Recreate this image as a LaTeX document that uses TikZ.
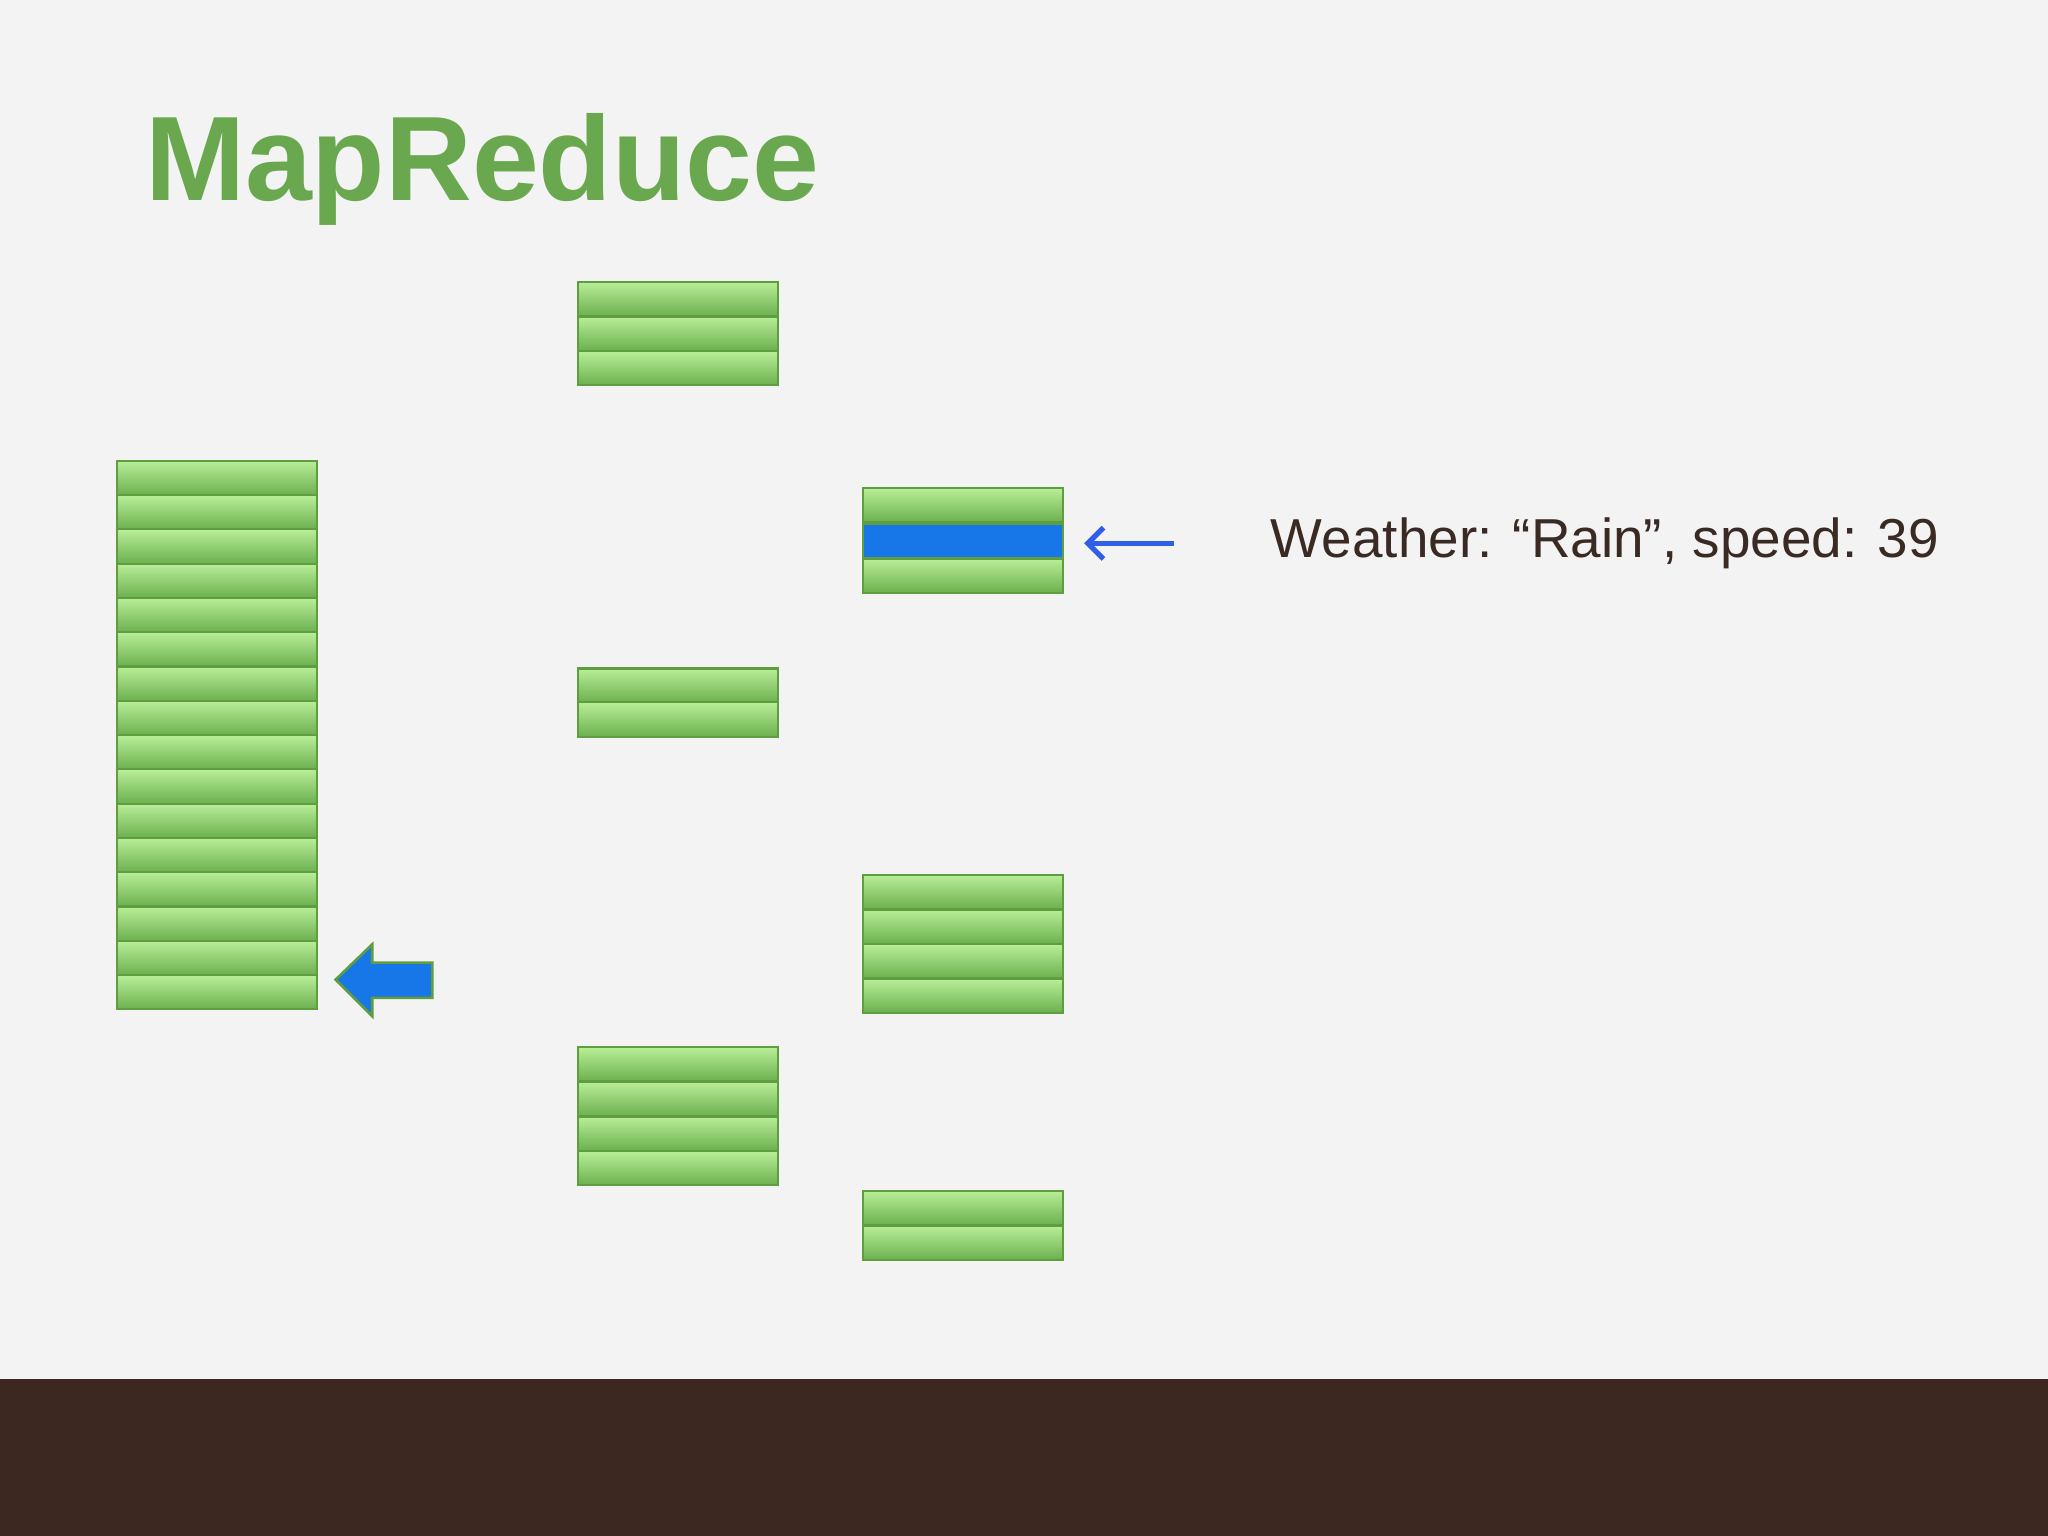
\documentclass[tikz,border=0pt]{standalone}
\usepackage{fontspec}
\usetikzlibrary{arrows.meta}
\setmainfont{Liberation Sans}
\definecolor{bg}{HTML}{F3F3F3}
\definecolor{titlegreen}{HTML}{6AA84F}
\definecolor{rowtop}{HTML}{B8EE98}
\definecolor{rowbot}{HTML}{6CB04E}
\definecolor{rowedge}{HTML}{5E9E3E}
\definecolor{bluefill}{HTML}{1877E8}
\definecolor{thinblue}{HTML}{2F5FE8}
\definecolor{brownbar}{HTML}{3C2721}
\definecolor{txt}{HTML}{3A2A24}
\begin{document}
\begin{tikzpicture}[x=0.5pt,y=-0.5pt,
  rowbox/.style={draw=rowedge,line width=0.8pt,top color=rowtop,bottom color=rowbot,inner sep=0,minimum width=76.5pt,minimum height=13.1pt,anchor=north west},
  bluerow/.style={draw=rowedge,line width=0.8pt,fill=bluefill,inner sep=0,minimum width=76.5pt,minimum height=13.1pt,anchor=north west}]
\fill[bg] (0,0) rectangle (1568,1176);
\useasboundingbox (0,0) rectangle (1568,1176);
\fill[brownbar] (0,1056) rectangle (1568,1176);
\node[anchor=west,text=titlegreen,font=\bfseries\fontsize{46}{50}\selectfont] (title) at (104,130) {MapReduce};
\foreach \i in {0,...,15} \node[rowbox] (L\i) at (89,352+26.25*\i) {};
\foreach \i in {0,1,2} \node[rowbox] (A\i) at (442,215+26.5*\i) {};
\foreach \i in {0,1} \node[rowbox] (B\i) at (442,511+26*\i) {};
\foreach \i in {0,...,3} \node[rowbox] (C\i) at (442,801+26.5*\i) {};
\node[rowbox] (D0) at (660,373) {};
\node[bluerow] (D1) at (660,400) {};
\node[rowbox] (D2) at (660,427) {};
\foreach \i in {0,...,3} \node[rowbox] (E\i) at (660,669+26.5*\i) {};
\foreach \i in {0,1} \node[rowbox] (F\i) at (660,911+26.5*\i) {};
\draw[rowedge,line width=1pt,fill=bluefill] (257,750) -- (285,723) -- (285,737) -- (331,737) -- (331,764) -- (285,764) -- (285,778) -- cycle;
\node[anchor=west,text=txt,font=\fontsize{21}{24}\selectfont] (w) at (966,416) {Weather: “Rain”, speed: 39};
\coordinate (as) at (899,416);
\coordinate (ae) at (830,416);
\draw[thinblue,line width=2pt,-{Straight Barb[length=6pt,width=12pt]}] (as) -- (ae);
\end{tikzpicture}
\end{document}
